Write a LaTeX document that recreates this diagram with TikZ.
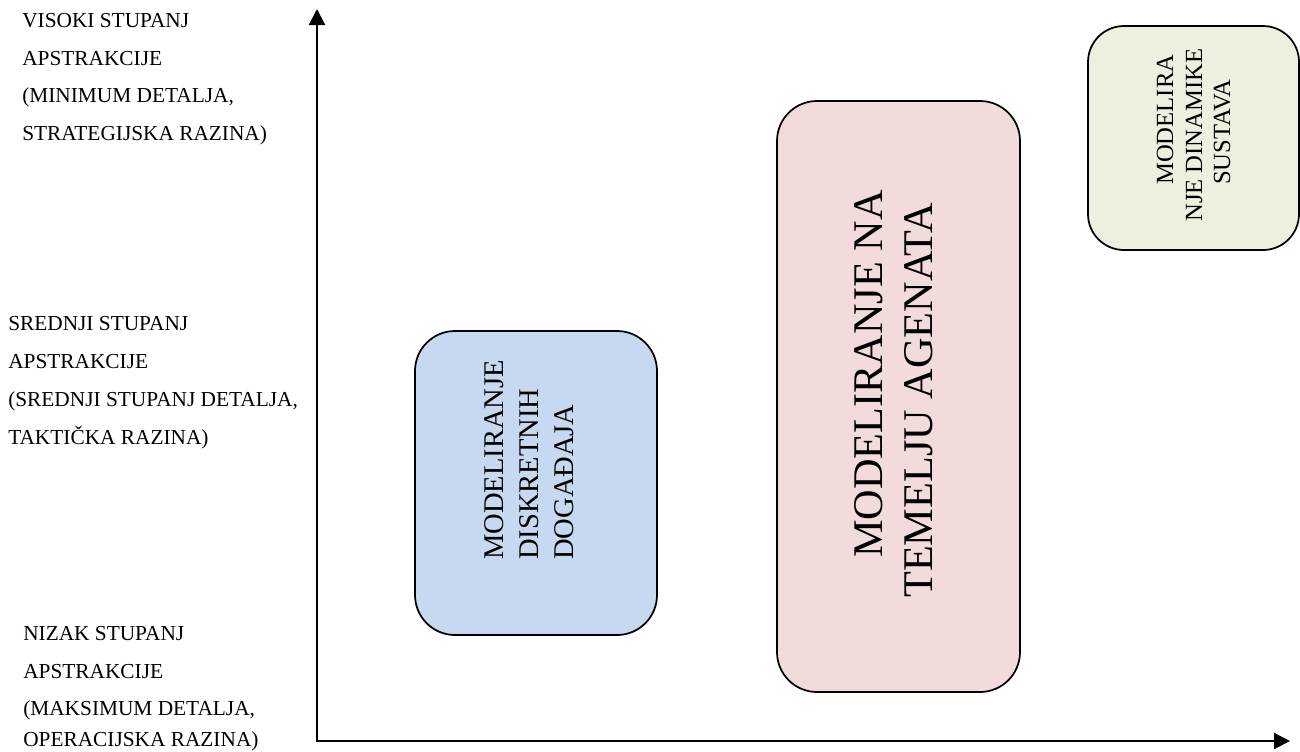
\documentclass[tikz,border=0pt]{standalone}
\usepackage{fontspec}
\setmainfont{Liberation Serif}
\usetikzlibrary{arrows.meta}
\definecolor{boxblue}{HTML}{C6D9F0}
\definecolor{boxpink}{HTML}{F2DCDB}
\definecolor{boxgreen}{HTML}{EBF1DE}
\begin{document}
\begin{tikzpicture}[x=0.75pt,y=-0.75pt,
  lvl/.style={anchor=base west,inner sep=0pt,font=\fontsize{16}{19}\selectfont},
  rbox/.style={draw=black,line width=1.3pt,rounded corners=#1,inner sep=0pt},
  vtext/.style={rotate=90,anchor=base west,inner sep=0pt},
  axis/.style={line width=1.6pt,-{Triangle[length=12pt,width=12pt]}}]
\useasboundingbox (0,0) rectangle (1300,751);
% axes
\coordinate (origin) at (317,741);
\coordinate (ytop) at (317,9);
\coordinate (xend) at (1290,741);
\draw[axis] (origin) -- (ytop);
\draw[axis] ([xshift=-0.8pt]origin) -- (xend);
% level labels
\node[lvl] (h1) at (22,27) {VISOKI STUPANJ};
\node[lvl] (h2) at (22,65) {APSTRAKCIJE};
\node[lvl] (h3) at (22,102) {(MINIMUM DETALJA,};
\node[lvl] (h4) at (22,140) {STRATEGIJSKA RAZINA)};
\node[lvl] (m1) at (8,330) {SREDNJI STUPANJ};
\node[lvl] (m2) at (8,368) {APSTRAKCIJE};
\node[lvl] (m3) at (8,406) {(SREDNJI STUPANJ DETALJA,};
\node[lvl] (m4) at (8,444) {TAKTIČKA RAZINA)};
\node[lvl] (l1) at (23,640) {NIZAK STUPANJ};
\node[lvl] (l2) at (23,678) {APSTRAKCIJE};
\node[lvl] (l3) at (23,715) {(MAKSIMUM DETALJA,};
\node[lvl] (l4) at (23,746) {OPERACIJSKA RAZINA)};
% boxes
\draw[rbox=30pt,fill=boxblue] (415,331) rectangle (657,635);
\draw[rbox=30pt,fill=boxpink] (777,101) rectangle (1020,692);
\draw[rbox=27pt,fill=boxgreen] (1088,26) rectangle (1299,250);
% blue box text
\begin{scope}[font=\fontsize{21.4}{25}\selectfont]
\node[vtext] (b1) at (503,560) {MODELIRANJE};
\node[vtext] (b2) at (538,560) {DISKRETNIH};
\node[vtext] (b3) at (573,560) {DOGAĐAJA};
\end{scope}
% pink box text
\begin{scope}[font=\fontsize{31.7}{36}\selectfont]
\node[vtext] (p1) at (882,558) {MODELIRANJE NA};
\node[vtext] (p2) at (932,598) {TEMELJU AGENATA};
\end{scope}
% green box text
\begin{scope}[font=\fontsize{18.5}{22}\selectfont]
\node[vtext] (g1) at (1173,185) {MODELIRA};
\node[vtext] (g2) at (1202,222) {NJE DINAMIKE};
\node[vtext] (g3) at (1230,185) {SUSTAVA};
\end{scope}
\end{tikzpicture}
\end{document}
